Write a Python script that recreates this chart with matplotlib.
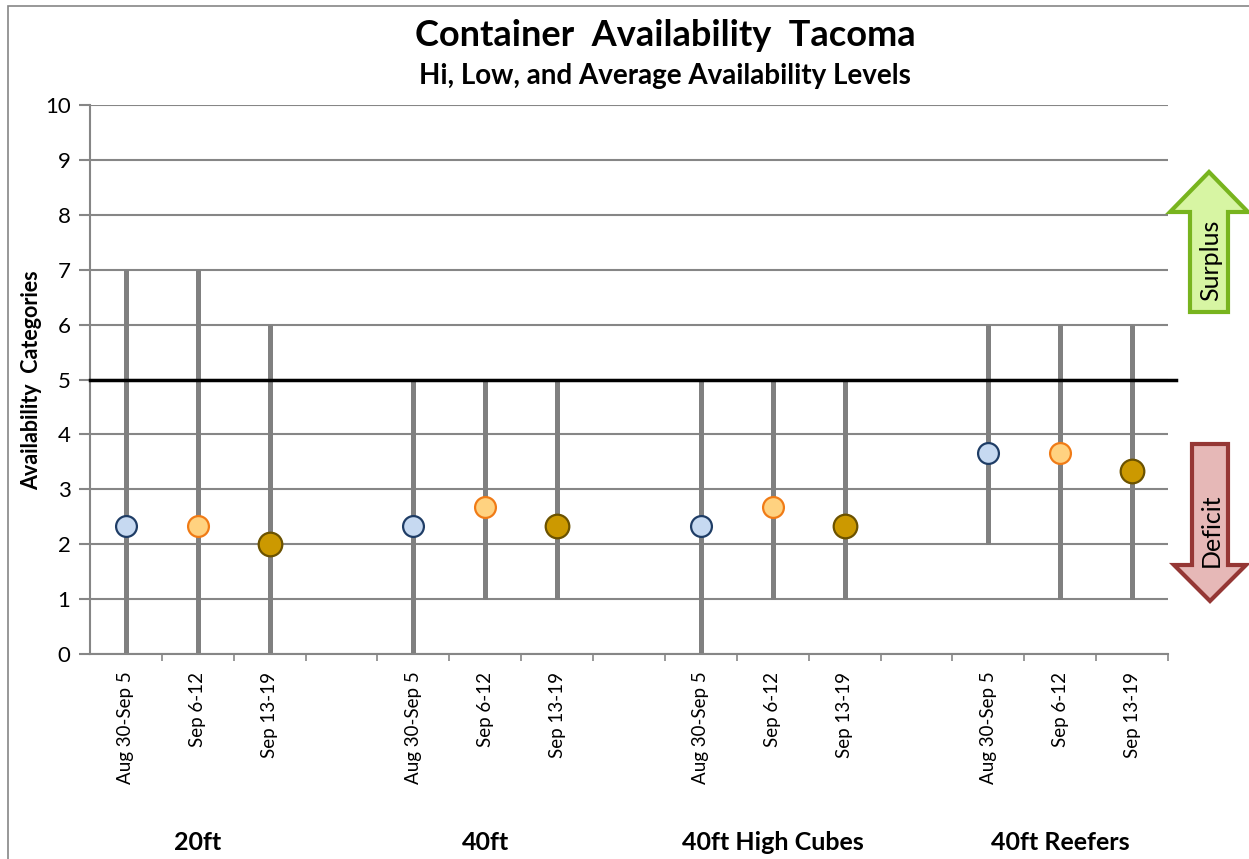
import matplotlib.pyplot as plt
import matplotlib.patches as mpatches
import numpy as np

plt.rcParams['font.family'] = ['Lato', 'DejaVu Sans']

# data
groups = ["20ft", "40ft", "40ft High Cubes", "40ft Reefers"]
weeks = ["Aug 30-Sep 5", "Sep 6-12", "Sep 13-19"]
hi_vals = [7, 7, 6, 5, 5, 5, 5, 5, 5, 6, 6, 6]
low_vals = [0, 0, 0, 0, 1, 1, 0, 1, 1, 2, 1, 1]
avg_vals = [2.33, 2.33, 2.0, 2.33, 2.67, 2.33, 2.33, 2.67, 2.33, 3.67, 3.67, 3.33]
balance_level = 5

W, H = 1249, 859
fig = plt.figure(figsize=(W / 100, H / 100), dpi=100)
ax = fig.add_axes([90 / W, 1 - 654 / H, (1168 - 90) / W, (654 - 105) / H])


def px(x, y):
    return (x / W, 1 - y / H)


# slots: 3 weeks per group then one empty slot
xs = []
labels = []
for g in range(len(groups)):
    for w in range(len(weeks)):
        xs.append(g * 4 + w + 0.5)
        labels.append(weeks[w])
xs = np.array(xs)

ax.set_xlim(0, 15)
ax.set_ylim(0, 10)
ax.set_yticks(range(0, 11))
ax.set_xticks(np.arange(1, 16))
ax.set_xticklabels([])
ax.grid(axis='y', color='#868686', linewidth=1.5, zorder=0)
ax.set_axisbelow(True)
for s in ['top', 'right']:
    ax.spines[s].set_visible(False)
for s in ['left', 'bottom']:
    ax.spines[s].set_color('#868686')
    ax.spines[s].set_linewidth(1.5)
ax.tick_params(axis='y', direction='out', length=8, width=1.5, color='#868686',
               labelsize=16, pad=6)
ax.tick_params(axis='x', direction='out', length=5, width=1.2, color='#868686')

ax.vlines(xs, low_vals, hi_vals, color='#808080', linewidth=3.6, zorder=2)
ax.axhline(balance_level, color='black', linewidth=2.5, xmax=1.007, clip_on=False, zorder=3)

face = ['#c6d9f1', '#ffd280', '#cc9900']
edge = ['#1f3d66', '#f07b16', '#6b5200']
sizes = [15, 15, 17]
for w in range(3):
    ax.plot(xs[w::3], avg_vals[w::3], 'o', ms=sizes[w], mfc=face[w], mec=edge[w],
            mew=1.6, zorder=4, linestyle='none')

for x, lab in zip(xs, labels):
    ax.text(x, -0.32, lab, rotation=90, ha='center', va='top', fontsize=13.5)
for g, name in enumerate(groups):
    ax.text(g * 4 + 1.5, -3.44, name, ha='center', va='center', fontsize=18, fontweight='bold')

fig.text(*px(665, 35), "Container  Availability  Tacoma", ha='center', va='center',
         fontsize=26, fontweight='bold')
fig.text(*px(665, 76), "Hi, Low, and Average Availability Levels", ha='center', va='center',
         fontsize=20, fontweight='bold')
fig.text(*px(32, 380), "Availability  Categories", rotation=90, ha='center', va='center',
         fontsize=15.5, fontweight='bold')

# surplus / deficit arrows
up = [(1209, 172), (1248, 212), (1228, 212), (1228, 312), (1190, 312), (1190, 212), (1170, 212)]
down = [(1192, 444), (1228, 444), (1228, 565), (1246, 565), (1210, 601), (1174, 565), (1192, 565)]
fig.patches.append(mpatches.Polygon([px(*p) for p in up], closed=True, transform=fig.transFigure,
                                    facecolor='#d7f5a3', edgecolor='#78b41e', linewidth=3))
fig.patches.append(mpatches.Polygon([px(*p) for p in down], closed=True, transform=fig.transFigure,
                                    facecolor='#e6b8b7', edgecolor='#953735', linewidth=3))
fig.text(*px(1211, 260), "Surplus", rotation=90, ha='center', va='center', fontsize=18)
fig.text(*px(1211, 530), "Deficit", rotation=90, ha='center', va='center', fontsize=18)

# chart frame
fig.patches.append(mpatches.Rectangle(px(8, 900), (W + 20) / W, 894 / H, transform=fig.transFigure,
                                      fill=False, edgecolor='#868686', linewidth=1.2))

fig.savefig("out.png", dpi=100)
